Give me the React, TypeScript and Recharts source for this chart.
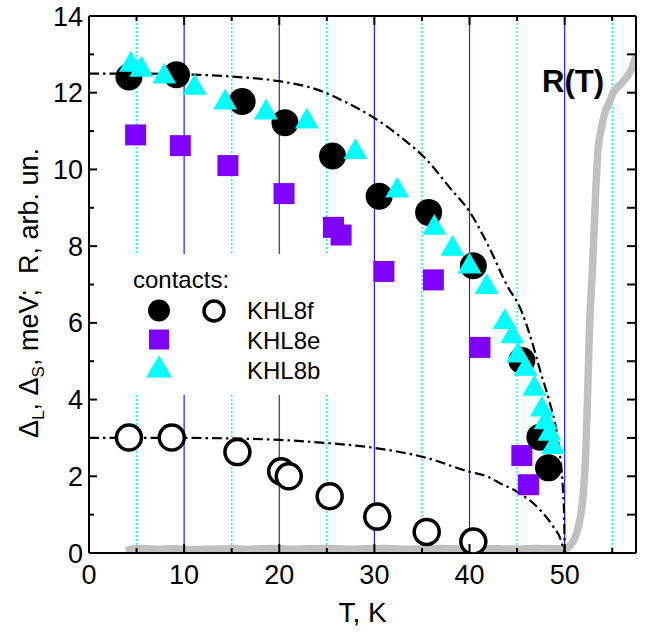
import React from 'react';
import { ComposedChart, XAxis, YAxis, Line, Scatter, ReferenceLine } from 'recharts';

const FONT = '"Liberation Sans", Arial, Helvetica, sans-serif';

// axis ticks
const xTicks = [0, 5, 10, 15, 20, 25, 30, 35, 40, 45, 50, 55];
const yTicks = [0, 1, 2, 3, 4, 5, 6, 7, 8, 9, 10, 11, 12, 13, 14];
const majorGridT = [10, 20, 30, 40, 50];
const minorGridT = [5, 15, 25, 35, 45, 55];

// KHL8f, large gap (filled circles)
const khl8fLT = [4.2, 9.2, 16.1, 20.6, 25.6, 30.5, 35.7, 40.4, 45.5, 47.4, 48.3];
const khl8fLV = [12.41, 12.47, 11.77, 11.22, 10.35, 9.3, 8.88, 7.49, 5.02, 3.02, 2.22];

// KHL8f, small gap (open circles)
const khl8fST = [4.2, 8.7, 15.6, 20.2, 21.0, 25.3, 30.3, 35.5, 40.4];
const khl8fSV = [3.01, 3.01, 2.63, 2.13, 2.0, 1.48, 0.95, 0.55, 0.3];

// KHL8e (squares)
const khl8eT = [4.9, 9.6, 14.6, 20.5, 25.7, 26.5, 31.0, 36.2, 41.1, 45.5, 46.2];
const khl8eV = [10.9, 10.62, 10.1, 9.37, 8.49, 8.29, 7.34, 7.12, 5.36, 2.54, 1.78];

// KHL8b (triangles)
const khl8bT = [4.4, 5.5, 7.9, 11.1, 14.3, 18.6, 22.9, 28.0, 32.4, 36.3, 38.2, 40.0, 41.8, 43.7, 44.5, 45.1, 45.9, 46.8, 47.6, 48.0, 48.4, 48.8];
const khl8bV = [12.73, 12.6, 12.42, 12.13, 11.74, 11.48, 11.25, 10.45, 9.45, 8.48, 7.93, 7.47, 6.93, 6.02, 5.65, 5.15, 4.8, 4.28, 3.74, 3.41, 3.11, 2.76];

// dash-dot guide curves
const fitLT = [0, 5, 10, 15, 20, 24, 27, 30, 33, 35.5, 38, 40, 42, 44, 45.3, 46.5, 47.5, 48.4, 49.2, 49.6, 49.8, 49.95, 50];
const fitLV = [12.5, 12.5, 12.48, 12.42, 12.3, 12.08, 11.75, 11.34, 10.8, 10.25, 9.5, 8.9, 8.0, 6.95, 6.4, 5.56, 4.69, 3.95, 3.1, 2.35, 1.74, 0.9, 0];
const fitST = [0, 10, 20, 24.3, 30, 35.5, 39.8, 42, 43.2, 44.9, 47.4, 48.8, 49.5, 50];
const fitSV = [3.0, 3.0, 2.95, 2.88, 2.74, 2.48, 2.13, 1.98, 1.82, 1.61, 1.13, 0.69, 0.4, 0];

// R(T) curve
const rT = [3.9, 5, 7, 9, 11, 13, 15, 17, 19, 21, 23, 25, 27, 29, 31, 33, 35, 37, 39, 41, 43, 45, 47, 49, 50, 50.5, 51, 51.5, 51.9, 52.2, 52.4, 52.6, 52.9, 53.1, 53.3, 53.5, 53.8, 54.2, 54.7, 55.1, 55.8, 56.5, 57.0, 57.5];
const rV = [0.06, 0.12, 0.1, 0.11, 0.09, 0.1, 0.11, 0.1, 0.12, 0.1, 0.11, 0.12, 0.1, 0.11, 0.12, 0.1, 0.11, 0.12, 0.1, 0.12, 0.11, 0.1, 0.12, 0.11, 0.1, 0.17, 0.35, 0.75, 1.39, 2.5, 4.0, 5.8, 7.3, 8.4, 9.6, 10.5, 11.0, 11.45, 11.75, 12.0, 12.2, 12.4, 12.6, 12.95];

const zip = (t: number[], v: number[]) => t.map((x, i) => ({ t: x, v: v[i] }));

const dFilled = zip(khl8fLT, khl8fLV);
const dOpen = zip(khl8fST, khl8fSV);
const dSquare = zip(khl8eT, khl8eV);
const dTri = zip(khl8bT, khl8bV);
const dFitL = zip(fitLT, fitLV);
const dFitS = zip(fitST, fitSV);
const dR = zip(rT, rV);

const PURPLE = '#7f00ff';
const CYAN = '#00ffff';

const triPath = (cx: number, cy: number, w: number) => {
  const h = (w * Math.sqrt(3)) / 2;
  return `M${cx},${cy - (2 * h) / 3} L${cx + w / 2},${cy + h / 3} L${cx - w / 2},${cy + h / 3} Z`;
};

const FilledCircle = (p: any) => <circle cx={p.cx} cy={p.cy} r={13.5} fill="#000" />;
const OpenCircle = (p: any) => (
  <circle cx={p.cx} cy={p.cy} r={12.5} fill="#fff" stroke="#000" strokeWidth={3.5} />
);
const Square = (p: any) => <rect x={p.cx - 10.5} y={p.cy - 10.5} width={21} height={21} fill={PURPLE} />;
const Triangle = (p: any) => <path d={triPath(p.cx, p.cy, 24)} fill={CYAN} />;

const BottomTick = (p: any) => {
  const { x, y, payload } = p;
  const major = payload.value % 10 === 0;
  return (
    <g>
      <line x1={x} x2={x} y1={y} y2={y - (major ? 9 : 5)} stroke="#000" strokeWidth={2} />
      {major && (
        <text x={x} y={y + 31} textAnchor="middle" fontSize={27} fontFamily={FONT} fill="#000">
          {payload.value}
        </text>
      )}
    </g>
  );
};

const TopTick = (p: any) => {
  const { x, y, payload } = p;
  const major = payload.value % 10 === 0;
  return <line x1={x} x2={x} y1={y} y2={y + (major ? 9 : 5)} stroke="#000" strokeWidth={2} />;
};

const LeftTick = (p: any) => {
  const { x, y, payload } = p;
  const major = payload.value % 2 === 0;
  return (
    <g>
      <line x1={x} x2={x + (major ? 8 : 5)} y1={y} y2={y} stroke="#000" strokeWidth={2} />
      {major && (
        <text x={x - 6} y={y + 9.5} textAnchor="end" fontSize={27} fontFamily={FONT} fill="#000">
          {payload.value}
        </text>
      )}
    </g>
  );
};

const RightTick = (p: any) => {
  const { x, y } = p;
  return <line x1={x} x2={x - 9} y1={y} y2={y} stroke="#000" strokeWidth={2} />;
};

const axisLine = { stroke: '#000', strokeWidth: 2 };

export default function App() {
  return (
    <div style={{ position: 'absolute', left: 0, top: 0, width: 652, height: 632, background: '#fff' }}>
      <ComposedChart width={652} height={632} margin={{ top: 0, right: 0, bottom: 0, left: 0 }}>
        <XAxis
          dataKey="t"
          type="number"
          domain={[0, 57.5]}
          allowDataOverflow
          ticks={xTicks}
          interval={0}
          tickSize={0}
          tickMargin={0}
          height={79}
          axisLine={axisLine}
          tick={<BottomTick />}
          label={{ value: 'T, K', position: 'insideBottom', offset: 10, fontSize: 28, fill: '#000', fontFamily: FONT }}
        />
        <XAxis
          xAxisId="top"
          orientation="top"
          dataKey="t"
          type="number"
          domain={[0, 57.5]}
          allowDataOverflow
          ticks={xTicks}
          interval={0}
          tickSize={0}
          tickMargin={0}
          height={16}
          axisLine={axisLine}
          tick={<TopTick />}
        />
        <YAxis
          type="number"
          domain={[0, 14]}
          allowDataOverflow
          ticks={yTicks}
          interval={0}
          tickSize={0}
          tickMargin={0}
          width={89}
          axisLine={axisLine}
          tick={<LeftTick />}
        />
        <YAxis
          yAxisId="right"
          orientation="right"
          type="number"
          domain={[0, 14]}
          allowDataOverflow
          ticks={yTicks}
          interval={0}
          tickSize={0}
          tickMargin={0}
          width={16}
          axisLine={axisLine}
          tick={<RightTick />}
        />
        {minorGridT.map((t) => (
          <ReferenceLine key={'m' + t} x={t} stroke={CYAN} strokeWidth={1.5} strokeDasharray="2 2" />
        ))}
        {majorGridT.map((t) => (
          <ReferenceLine key={'M' + t} x={t} stroke="#2020ff" strokeWidth={1.2} />
        ))}
        <Scatter data={dOpen} dataKey="v" shape={OpenCircle} isAnimationActive={false} />
        <Line
          data={dR}
          dataKey="v"
          type="monotone"
          stroke="#c0c0c0"
          strokeWidth={7.5}
          dot={false}
          activeDot={false}
          isAnimationActive={false}
        />
        <Line
          data={dFitL}
          dataKey="v"
          type="monotone"
          stroke="#000"
          strokeWidth={2.2}
          strokeDasharray="10 4 2.5 4"
          dot={false}
          activeDot={false}
          isAnimationActive={false}
        />
        <Line
          data={dFitS}
          dataKey="v"
          type="monotone"
          stroke="#000"
          strokeWidth={2.2}
          strokeDasharray="10 4 2.5 4"
          dot={false}
          activeDot={false}
          isAnimationActive={false}
        />
        <Scatter data={dSquare} dataKey="v" shape={Square} isAnimationActive={false} />
        <Scatter data={dFilled} dataKey="v" shape={FilledCircle} isAnimationActive={false} />
        <Scatter data={dTri} dataKey="v" shape={Triangle} isAnimationActive={false} />
      </ComposedChart>
      <svg
        width={652}
        height={632}
        style={{ position: 'absolute', left: 0, top: 0, pointerEvents: 'none' }}
      >
        <text
          transform="translate(38,293) rotate(-90)"
          textAnchor="middle"
          fontSize={27}
          fontFamily={FONT}
          fill="#000"
          style={{ whiteSpace: 'pre' }}
        >
          Δ<tspan dy={6} fontSize={17}>L</tspan>
          <tspan dy={-6}>, Δ</tspan>
          <tspan dy={6} fontSize={17}>S</tspan>
          <tspan dy={-6}>, meV;  R, arb. un.</tspan>
        </text>
        <rect x={100} y={254} width={245} height={141} fill="#fff" />
        <text x={133} y={288} fontSize={24} fontFamily={FONT} fill="#000">contacts:</text>
        <circle cx={159} cy={310.5} r={11} fill="#000" />
        <circle cx={214} cy={311} r={10} fill="#fff" stroke="#000" strokeWidth={3.5} />
        <text x={247} y={318.5} fontSize={24} fontFamily={FONT} fill="#000">KHL8f</text>
        <rect x={149} y={329.5} width={20} height={20} fill={PURPLE} />
        <text x={247} y={349} fontSize={24} fontFamily={FONT} fill="#000">KHL8e</text>
        <path d={triPath(159, 370, 26)} fill={CYAN} />
        <text x={247} y={378.5} fontSize={24} fontFamily={FONT} fill="#000">KHL8b</text>
        <text x={542} y={92} fontSize={31} fontWeight="bold" fontFamily={FONT} fill="#000">R(T)</text>
      </svg>
    </div>
  );
}
